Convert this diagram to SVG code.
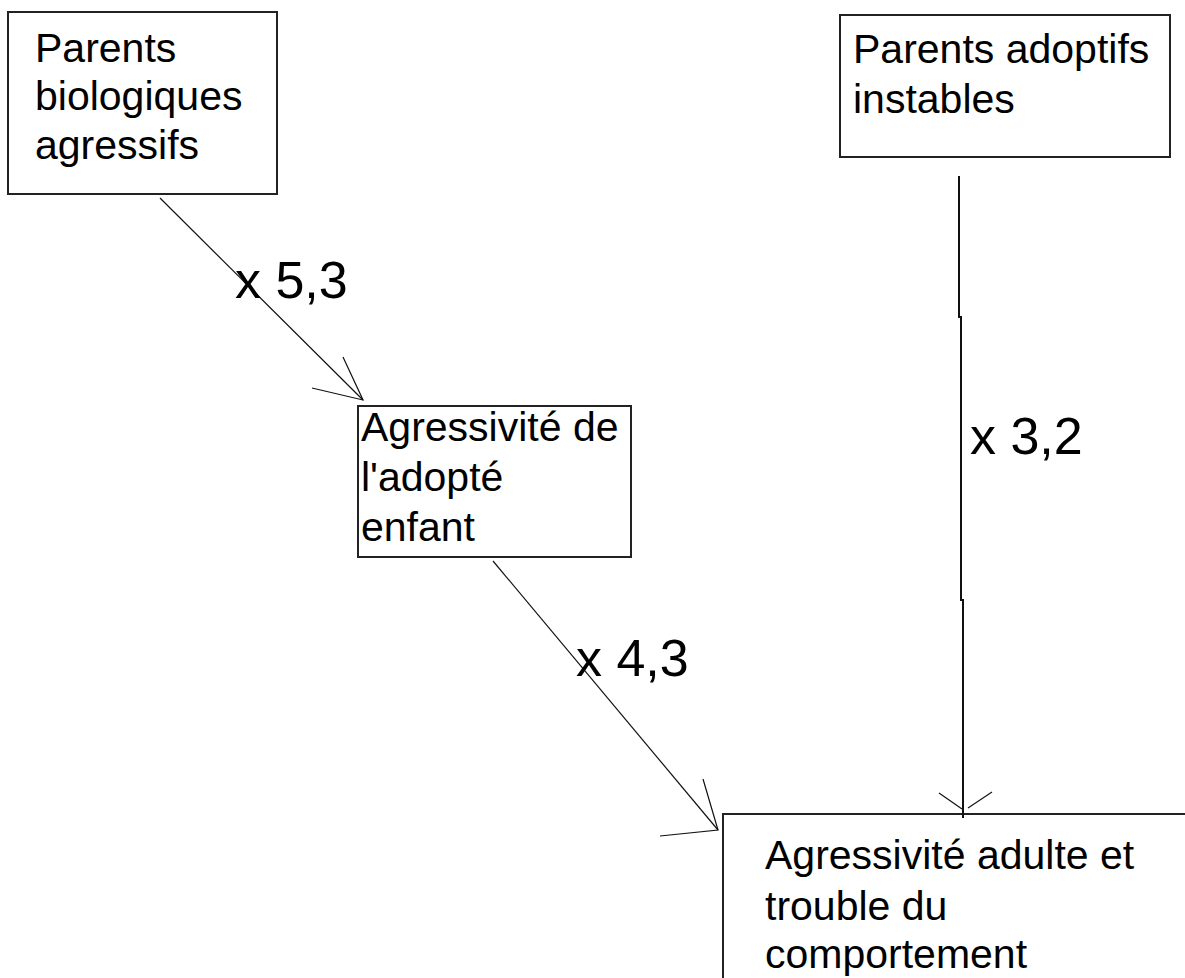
<svg xmlns="http://www.w3.org/2000/svg" width="1185" height="978" viewBox="0 0 1185 978">
<style>
.box{fill:#fff;stroke:#222;stroke-width:2}
.t{font-family:"Liberation Sans",Arial,sans-serif;font-size:41px;fill:#000}
.lbl{font-family:"Liberation Sans",Arial,sans-serif;font-size:52px;fill:#000}
.c{stroke:#111;stroke-width:1.2;fill:none}
.v{stroke:#111;stroke-width:2;fill:none}
</style>
<rect width="1185" height="978" fill="#fff"/>
<g id="node-parents-bio">
<rect class="box" x="8" y="12" width="269" height="182"/>
<text class="t" x="35" y="62">Parents</text>
<text class="t" x="35" y="110">biologiques</text>
<text class="t" x="35" y="159">agressifs</text>
</g>
<g id="node-parents-adoptifs">
<rect class="box" x="840" y="15" width="330" height="142"/>
<text class="t" x="853" y="63">Parents adoptifs</text>
<text class="t" x="853" y="113">instables</text>
</g>
<g id="node-agressivite-enfant">
<rect class="box" x="358" y="406" width="273" height="151"/>
<text class="t" x="361" y="441">Agressivité de</text>
<text class="t" x="361" y="491">l'adopté</text>
<text class="t" x="361" y="541">enfant</text>
</g>
<g id="node-agressivite-adulte">
<rect class="box" x="723" y="814" width="500" height="200"/>
<text class="t" x="765" y="869">Agressivité adulte et</text>
<text class="t" x="765" y="920">trouble du</text>
<text class="t" x="765" y="968">comportement</text>
</g>
<g id="connectors">
<line class="c" x1="160" y1="198" x2="363" y2="400"/>
<polyline class="c" points="343,357 363,400 312,388"/>
<line class="c" x1="493" y1="561" x2="718" y2="830"/>
<polyline class="c" points="703,779 718,830 660,836"/>
<path class="v" d="M959,176 V318 M961,316 V601 M963,599 V818"/>
<polyline class="c" points="939,793 962,809"/>
<polyline class="c" points="992,792 968,808"/>
<text class="lbl" x="235" y="298">x 5,3</text>
<text class="lbl" x="576" y="676">x 4,3</text>
<text class="lbl" x="970" y="454">x 3,2</text>
</g>
</svg>
